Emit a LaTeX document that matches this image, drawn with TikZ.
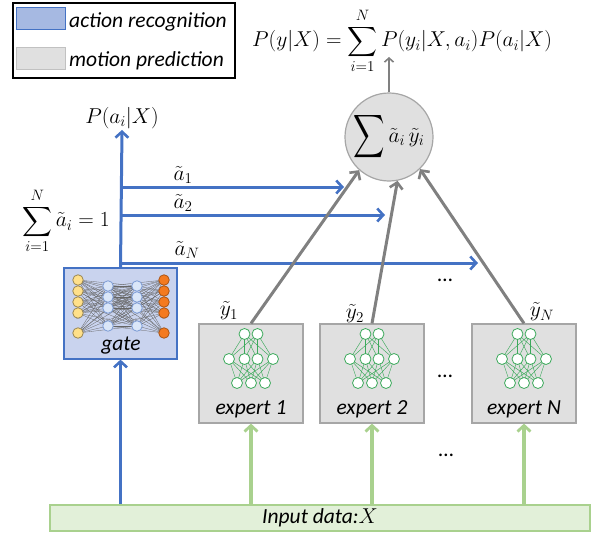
\RequirePackage{fix-cm}
\documentclass[tikz,border=0pt]{standalone}
\usepackage{amsmath}
\usepackage{fontspec}
\setmainfont{Carlito}
\usetikzlibrary{arrows.meta,positioning}

\definecolor{accblue}{HTML}{4472C4}
\definecolor{gatefill}{HTML}{C9D3EE}
\definecolor{swblue}{HTML}{A6B9E2}
\definecolor{boxgrey}{HTML}{E0E0E0}
\definecolor{edgegrey}{HTML}{A6A6A6}
\definecolor{arrgrey}{HTML}{808080}
\definecolor{inpfill}{HTML}{E2F0D9}
\definecolor{inpgreen}{HTML}{A9D18E}
\definecolor{netgreen}{HTML}{3DAA5C}
\definecolor{inyellow}{HTML}{FFE08A}
\definecolor{hidblue}{HTML}{DAE6F8}
\definecolor{outorange}{HTML}{F47A20}

\tikzset{
  lbl/.style={font=\itshape\fontsize{21.5}{25}\selectfont, inner sep=0pt},
  mth/.style={font=\fontsize{21.5}{25}\selectfont, inner sep=1pt},
  gatebox/.style={draw=accblue, fill=gatefill, line width=1.2pt, minimum width=113pt, minimum height=91pt},
  expbox/.style={draw=edgegrey, fill=boxgrey, line width=1.2pt, minimum width=104pt, minimum height=99pt},
  bluearr/.style={draw=accblue, line width=3pt, -{Straight Barb[length=6pt,width=13pt,line width=2.6pt]}},
  greyarr/.style={draw=arrgrey, line width=3pt, -{Straight Barb[length=6pt,width=13pt,line width=2.6pt]}},
  greenarr/.style={draw=inpgreen, line width=3.2pt, -{Straight Barb[length=6pt,width=13pt,line width=2.8pt]}},
  neuron/.style={circle, draw, line width=0.8pt, minimum size=10.5pt, inner sep=0pt}
}

\begin{document}
\begin{tikzpicture}[x=1pt,y=-1pt]
  \useasboundingbox (0,0) rectangle (595,535);

  % legend
  \node[draw, line width=1.8pt, minimum width=222pt, minimum height=75pt] (legend) at (124,40.5) {};
  \node[draw=accblue, fill=swblue, line width=1pt, minimum width=49pt, minimum height=22pt, inner sep=0pt] (swa) at (40.5,19) {};
  \node[draw=edgegrey!70, fill=boxgrey, line width=1pt, minimum width=49pt, minimum height=22pt, inner sep=0pt] (swm) at (40.5,59) {};
  \node[lbl, anchor=base west] (leg a) at (69,27.5) {action recognition};
  \node[lbl, anchor=base west] (leg m) at (69,66.5) {motion prediction};

  % output formula
  \node[mth, anchor=base west] (py) at (251,47) {$\displaystyle P(y|X)=\sum_{i=1}^{N}P(y_i|X,a_i)P(a_i|X)$};
  \node[circle, draw=edgegrey, fill=boxgrey, line width=1.2pt, minimum size=88pt, inner sep=0pt, font=\fontsize{21.5}{25}\selectfont] (sum) at (389,137) {$\vcenter{\hbox{\scalebox{1.05}[1.45]{$\displaystyle\sum$}}}\,\tilde a_i\,\tilde y_i$};
  \coordinate (top) at (389,57);
  \draw[draw=arrgrey, line width=1.8pt, -{Straight Barb[length=4pt,width=9pt,line width=1.6pt]}] (sum.north) -- (top);

  % gate
  \node[gatebox] (gate) at (120.5,313.5) {};
  \foreach \xa in {78,164} \foreach \xb in {108,137} {
    \foreach \ya in {280,291,302,313,333} \foreach \yb in {286,297,308,326}
      \draw[black!60, line width=0.3pt] (\xa,\ya) -- (\xb,\yb);
  }
  \foreach \ya in {286,297,308,326} \foreach \yb in {286,297,308,326}
    \draw[black!60, line width=0.3pt] (108,\ya) -- (137,\yb);
  \foreach \y in {280,291,302,313,333} {
    \node[neuron, draw=inyellow!60!black, fill=inyellow] at (78,\y) {};
    \node[neuron, draw=outorange!70!black, fill=outorange] at (164,\y) {};
  }
  \foreach \x in {108,137} \foreach \y in {286,297,308,326}
    \node[neuron, draw=accblue!70, fill=hidblue] at (\x,\y) {};
  \foreach \x in {78,108,137,164}
    \node[font=\tiny, text=black!60] at (\x,319) {...};
  \node[lbl, anchor=base] (gate txt) at (121,350) {gate};

  \node[mth] (pa) at (122,118) {$P(a_i|X)$};
  \draw[bluearr] (gate.north) -- (pa.south);
  \node[mth] (norm) at (66,221) {$\displaystyle\sum_{i=1}^{N}\tilde a_i=1$};

  % gate weights
  \coordinate (b1) at (121,187);
  \coordinate (b2) at (121,215);
  \coordinate (bN) at (121,263);
  \coordinate (t1) at (344,187);
  \coordinate (t2) at (385,215);
  \coordinate (tN) at (478,263);
  \draw[bluearr] (b1) -- (t1);
  \draw[bluearr] (b2) -- (t2);
  \draw[bluearr] (bN) -- (tN);
  \node[mth] (a1) at (183,175) {$\tilde a_1$};
  \node[mth] (a2) at (183,203) {$\tilde a_2$};
  \node[mth] (aN) at (187,250) {$\tilde a_N$};

  % experts
  \foreach \nm/\cx/\lab in {e1/251/expert 1,e2/372/expert 2,eN/524/expert N} {
    \node[expbox] (\nm) at (\cx,373.5) {};
    \foreach \ta in {-6.5,6.5} \foreach \mb in {-22,-6.5,6.5,22}
      \draw[netgreen, line width=0.45pt] (\cx+\ta,334) -- (\cx+\mb,359);
    \foreach \mb in {-22,-6.5,6.5,22} \foreach \bb in {-14,0,14}
      \draw[netgreen, line width=0.45pt] (\cx+\mb,359) -- (\cx+\bb,383);
    \foreach \ta in {-6.5,6.5}
      \node[neuron, draw=netgreen, fill=white, minimum size=11pt] at (\cx+\ta,334) {};
    \foreach \mb in {-22,-6.5,6.5,22}
      \node[neuron, draw=netgreen, fill=white, minimum size=11pt] at (\cx+\mb,359) {};
    \foreach \bb in {-14,0,14}
      \node[neuron, draw=netgreen, fill=white, minimum size=11pt] at (\cx+\bb,383) {};
    \node[lbl, anchor=base] (\nm txt) at (\cx,414) {\lab};
  }
  \node[mth] (y1) at (229,311) {$\tilde y_1$};
  \node[mth] (y2) at (355,314) {$\tilde y_2$};
  \node[mth] (yN) at (542,312) {$\tilde y_N$};

  \draw[greyarr] (e1.north) -- (sum.-132);
  \draw[greyarr] (e2.north) -- (sum.-79);
  \draw[greyarr] (eN.north) -- (sum.-46);

  \node[lbl, font=\fontsize{21.5}{25}\selectfont] (dots1) at (445,280) {\ldots};
  \node[lbl, font=\fontsize{21.5}{25}\selectfont] (dots2) at (445,376) {\ldots};
  \node[lbl, font=\fontsize{21.5}{25}\selectfont] (dots3) at (446,455) {\ldots};

  % input
  \node[draw=inpgreen, fill=inpfill, line width=1.2pt, minimum width=540pt, minimum height=26pt] (inp) at (320,518) {};
  \node[lbl] (inp txt) at (320,518) {Input data:$X$};
  \draw[bluearr, line width=2.2pt] (gate.south |- inp.north) -- (gate.south);
  \draw[greenarr] (e1.south |- inp.north) -- (e1.south);
  \draw[greenarr] (e2.south |- inp.north) -- (e2.south);
  \draw[greenarr] (eN.south |- inp.north) -- (eN.south);
\end{tikzpicture}
\end{document}
